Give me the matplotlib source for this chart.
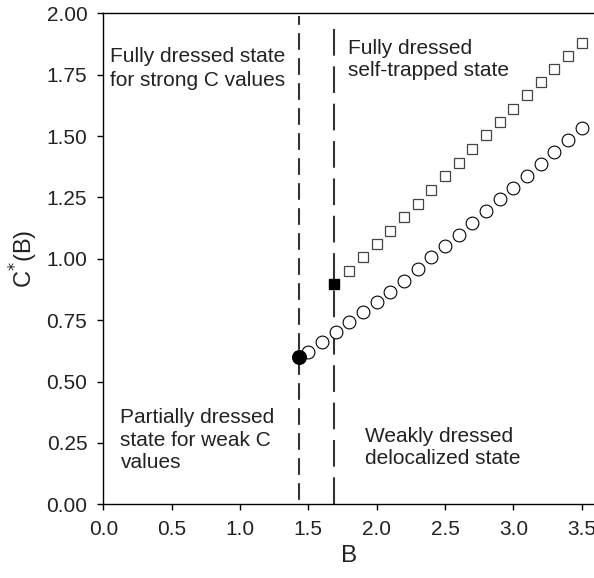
import matplotlib
matplotlib.use("Agg")
import matplotlib.pyplot as plt
import numpy as np

plt.rcParams['font.family'] = ['Liberation Sans', 'DejaVu Sans']
plt.rcParams['lines.scale_dashes'] = False

# Data
circle_B = [1.5, 1.6, 1.7, 1.8, 1.9, 2.0, 2.1, 2.2, 2.3, 2.4, 2.5, 2.6, 2.7,
            2.8, 2.9, 3.0, 3.1, 3.2, 3.3, 3.4, 3.5]
circle_C = [0.622, 0.662, 0.702, 0.742, 0.782, 0.823, 0.866, 0.910, 0.958, 1.006,
            1.052, 1.098, 1.144, 1.193, 1.243, 1.290, 1.338, 1.386, 1.435, 1.483, 1.531]
square_B = [1.8, 1.9, 2.0, 2.1, 2.2, 2.3, 2.4, 2.5, 2.6, 2.7, 2.8, 2.9, 3.0,
            3.1, 3.2, 3.3, 3.4, 3.5]
square_C = [0.952, 1.006, 1.061, 1.115, 1.170, 1.225, 1.280, 1.336, 1.390, 1.448,
            1.503, 1.558, 1.612, 1.667, 1.721, 1.774, 1.828, 1.880]
crit_circle = (1.43, 0.600)
crit_square = (1.69, 0.897)
vline_B = [1.43, 1.69]
vline_top = [1.99, 1.97]
x_ticks = [0.0, 0.5, 1.0, 1.5, 2.0, 2.5, 3.0, 3.5]
y_ticks = [0.0, 0.25, 0.5, 0.75, 1.0, 1.25, 1.5, 1.75, 2.0]

W, H = 594, 578
fig = plt.figure(figsize=(W / 100, H / 100), dpi=100)
ax = fig.add_axes([103.3 / W, 73.7 / H, 492.1 / W, 491.0 / H])

txt_color = '#222222'

# dashed vertical lines
ax.plot([vline_B[0], vline_B[0]], [0, vline_top[0]], color='#333333', lw=1.5,
        linestyle=(15.0, (12.0, 6.0)), zorder=2)
ax.plot([vline_B[1], vline_B[1]], [0, vline_top[1]], color='#333333', lw=1.5,
        linestyle=(0.0, (19.2, 7.7)), zorder=2)

# series
ax.plot(circle_B, circle_C, linestyle='none', marker='o', markersize=9.2,
        markerfacecolor='white', markeredgecolor='black', markeredgewidth=0.8, zorder=3)
ax.plot(square_B, square_C, linestyle='none', marker='s', markersize=7.3,
        markerfacecolor='white', markeredgecolor='#444444', markeredgewidth=0.9, zorder=3)
ax.plot([crit_circle[0]], [crit_circle[1]], linestyle='none', marker='o', markersize=9.8,
        markerfacecolor='black', markeredgecolor='black', zorder=4)
ax.plot([crit_square[0]], [crit_square[1]], linestyle='none', marker='s', markersize=7.8,
        markerfacecolor='black', markeredgecolor='black', zorder=4)

ax.set_xlim(0, 3.6)
ax.set_ylim(0, 2.0)
ax.set_xticks(x_ticks)
ax.set_xticklabels([f"{v:.1f}" for v in x_ticks])
ax.set_yticks(y_ticks)
ax.set_yticklabels([f"{v:.2f}" for v in y_ticks])
ax.tick_params(direction='out', length=4.5, width=1.0, labelsize=15,
               labelcolor=txt_color, pad=7)
ax.spines['right'].set_visible(False)
for s in ['left', 'bottom', 'top']:
    ax.spines[s].set_linewidth(1.0)

ax.set_xlabel('B', fontsize=17.5, color=txt_color, labelpad=4)
ax.set_ylabel('C$^{*}$(B)', fontsize=17, color=txt_color, labelpad=4.5)

fs = 15
ax.text(110 / W, 1 - 47 / H, 'Fully dressed state\nfor strong C values',
        transform=fig.transFigure, fontsize=fs, color=txt_color,
        va='top', ha='left', linespacing=1.33)
ax.text(348.5 / W, 1 - 39 / H, 'Fully dressed\nself-trapped state',
        transform=fig.transFigure, fontsize=fs, color=txt_color,
        va='top', ha='left', linespacing=1.22)
ax.text(120.5 / W, 1 - 408 / H, 'Partially dressed\nstate for weak C\nvalues',
        transform=fig.transFigure, fontsize=fs, color=txt_color,
        va='top', ha='left', linespacing=1.25)
ax.text(365 / W, 1 - 426.5 / H, 'Weakly dressed\ndelocalized state',
        transform=fig.transFigure, fontsize=fs, color=txt_color,
        va='top', ha='left', linespacing=1.22)

fig.savefig('out.png', dpi=100)
